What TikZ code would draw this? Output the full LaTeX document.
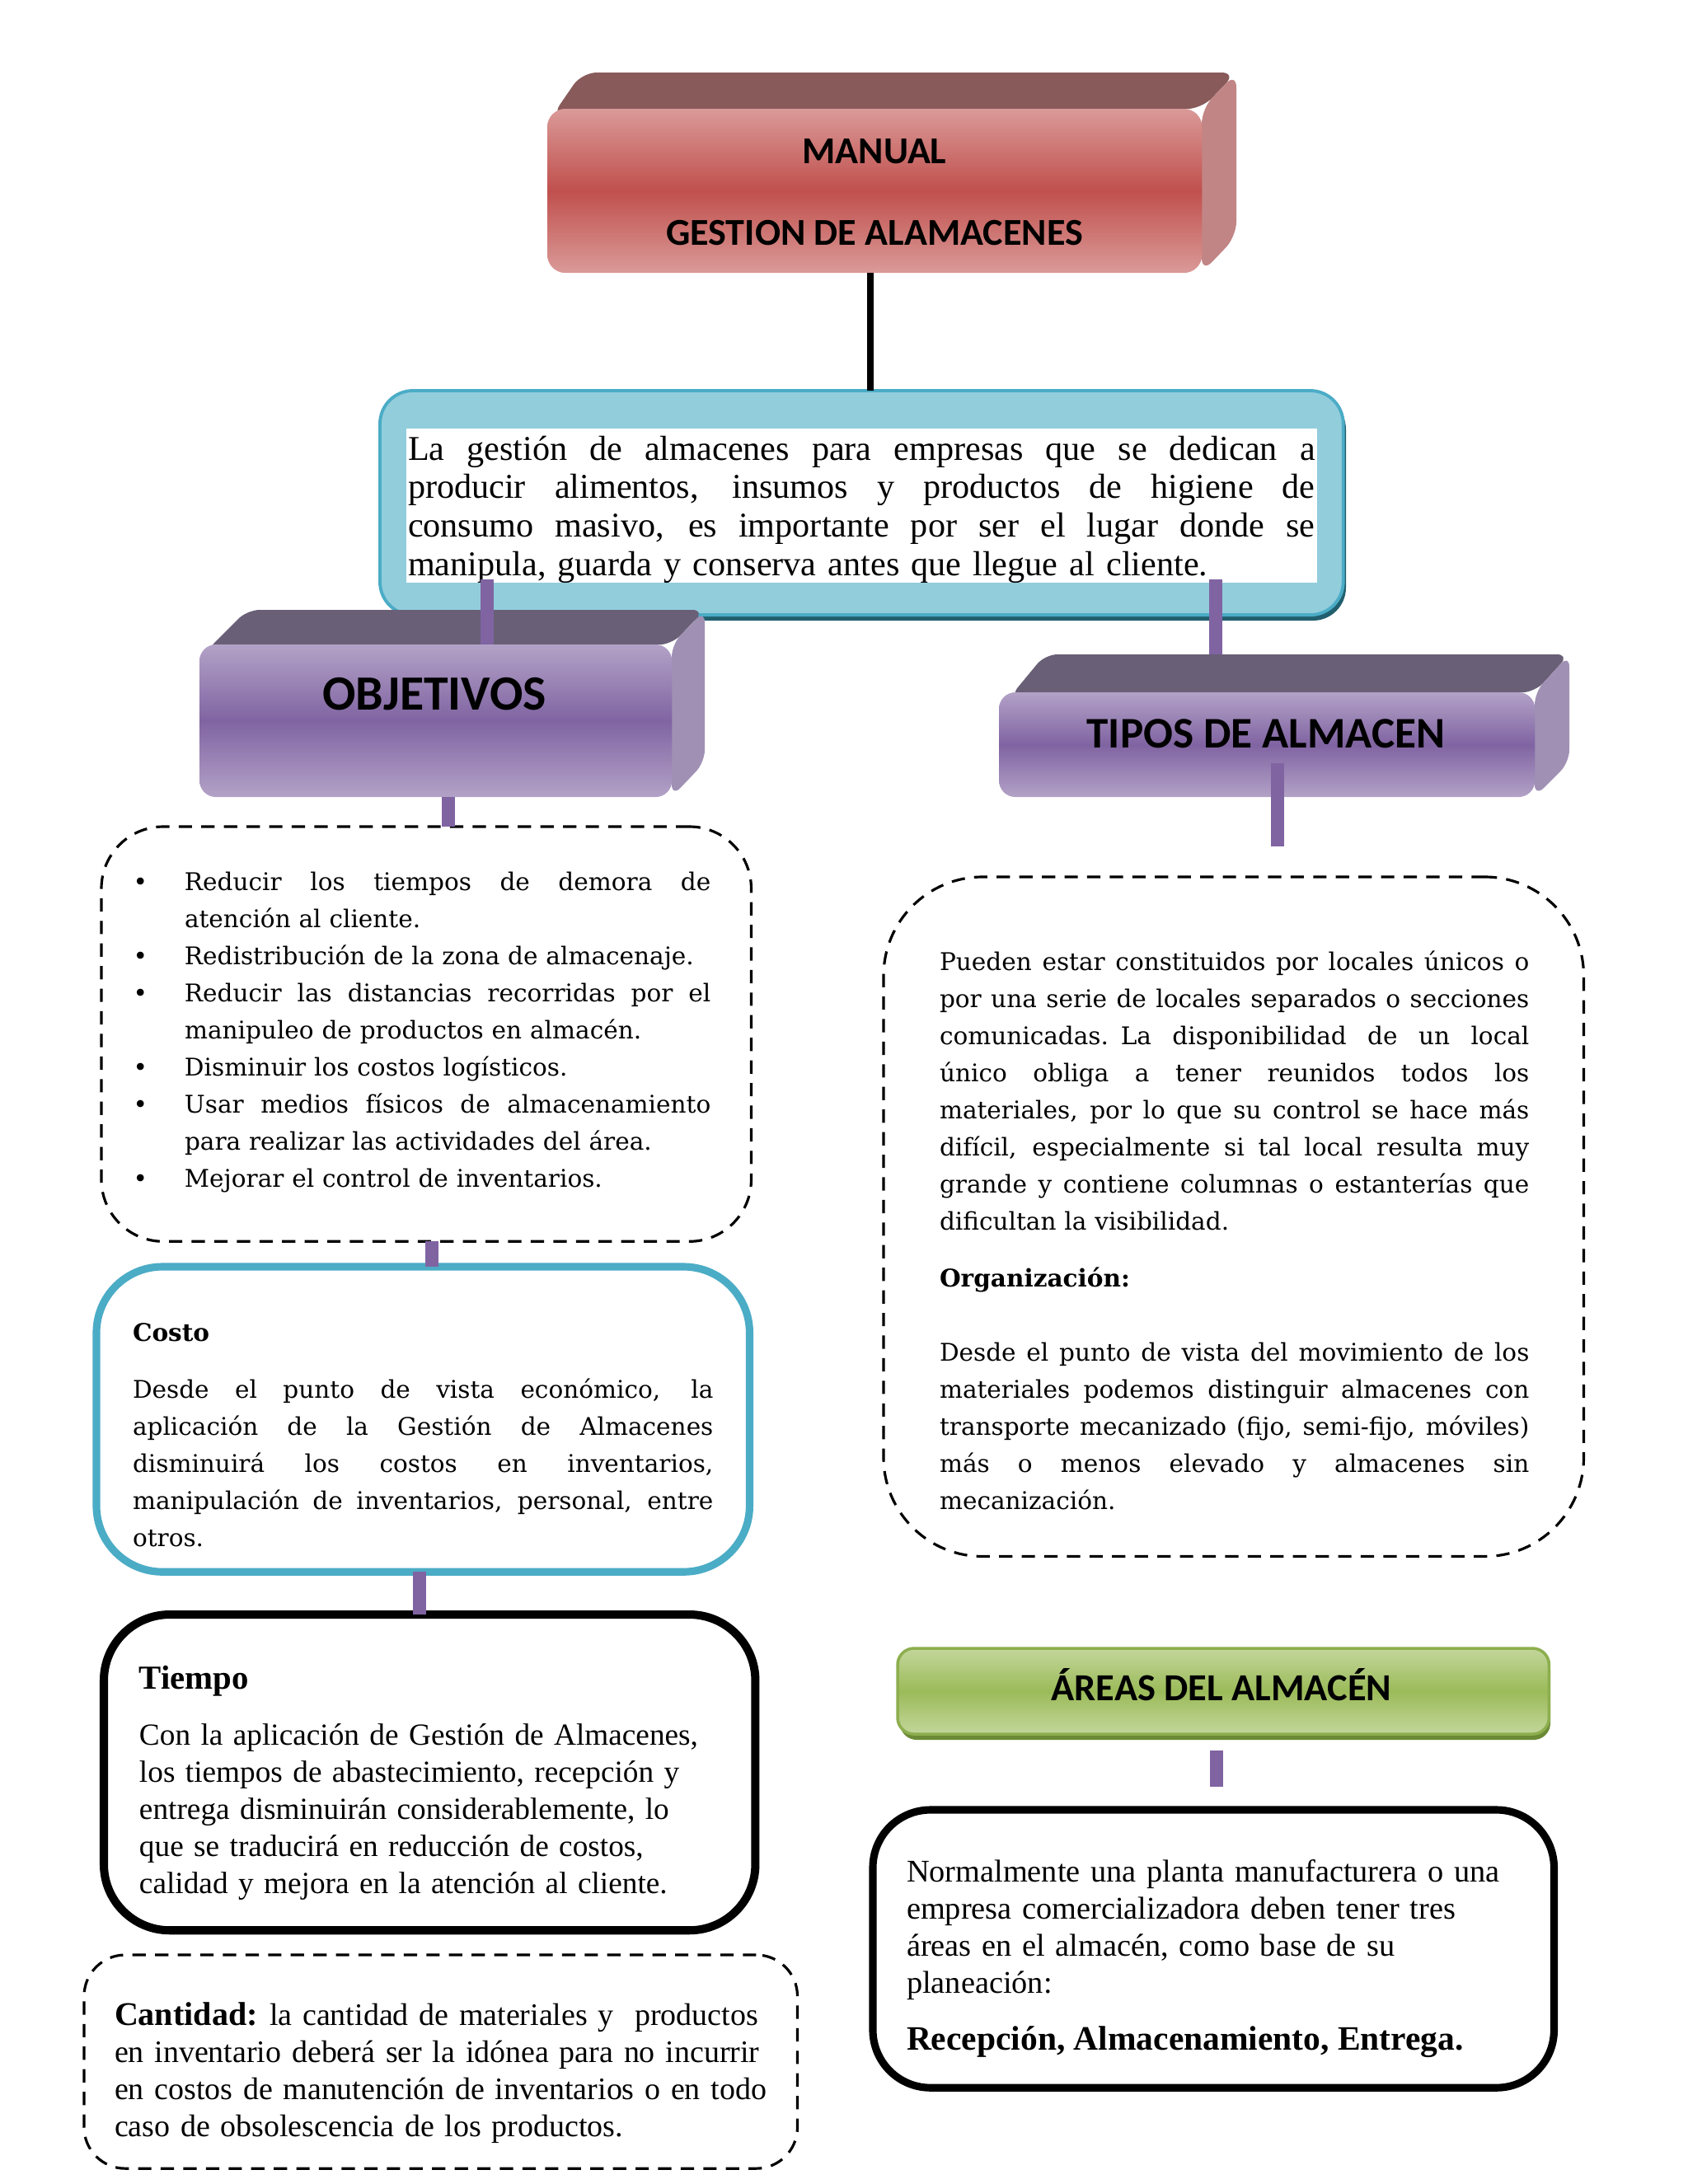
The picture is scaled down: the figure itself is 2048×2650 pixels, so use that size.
\documentclass[tikz,border=0pt]{standalone}
\usepackage{fontspec}
\newfontfamily\fcam{DejaVu Serif}
\newfontfamily\fgeo{Liberation Serif}
\newfontfamily\fcal{Carlito}
\usetikzlibrary{calc}
\setlength\parindent{0pt}
\newcommand\jl[1]{\leavevmode\hbox to \hsize{\spaceskip=0.3em plus 1fil\relax #1}\par}
\newcommand\bl{\leavevmode\llap{\textbullet\hspace{12.8pt}}}
\hbadness=10000
\hfuzz=20pt
\definecolor{redtop}{HTML}{DA9A98}
\definecolor{redmid}{HTML}{C0504D}
\definecolor{redback}{HTML}{885A5A}
\definecolor{redside}{HTML}{C28585}
\definecolor{purtop}{HTML}{B3A2C7}
\definecolor{purmid}{HTML}{8064A2}
\definecolor{purback}{HTML}{695F76}
\definecolor{purside}{HTML}{A091B4}
\definecolor{bluefill}{HTML}{92CDDC}
\definecolor{blueline}{HTML}{4BACC6}
\definecolor{blueshadow}{HTML}{215F6E}
\definecolor{grtop}{HTML}{C3D69B}
\definecolor{grmid}{HTML}{9BBB59}
\definecolor{grline}{HTML}{8DAE4E}
\definecolor{grshadow}{HTML}{6B8A36}
\begin{document}
\begin{tikzpicture}[x=0.01cm,y=-0.01cm,
  box/.style={rectangle, inner sep=0pt, outer sep=0pt, anchor=north west},
  pline/.style={draw=purmid, line width=4.5pt},
  dbox/.style={box, draw=black, line width=0.9pt, dash pattern=on 4.6pt off 3.2pt},
  tx/.style={inner sep=0pt, outer sep=0pt, anchor=base west, align=left},
  camf/.style={font={\fcam\fontsize{8.4pt}{12.83pt}\selectfont}},
  geof/.style={font={\fgeo\fontsize{10.9pt}{12.8pt}\selectfont}},
  hdr/.style={inner sep=0pt, outer sep=0pt, anchor=base}
]
\fill[white] (0,0) rectangle (2048,2650);
\useasboundingbox (0,0) rectangle (2048,2650);

% ---------- red 3D box
\fill[redback, rounded corners=0.18cm] (669,142) -- (706,88) -- (1500,88) -- (1458,132) -- cycle;
\fill[redside, rounded corners=0.18cm] (1458,132) -- (1500,88) -- (1500,287) -- (1458,331) -- cycle;
\node[box, rounded corners=0.22cm, top color=redtop, bottom color=redtop, middle color=redmid,
  minimum width=7.94cm, minimum height=1.99cm] (manual) at (664,132) {};
\node[hdr, font={\fcal\bfseries\fontsize{13.1pt}{15pt}\selectfont}] (manualA) at (1061,198) {MANUAL};
\node[hdr, font={\fcal\bfseries\fontsize{13.1pt}{15pt}\selectfont}] (manualB) at (1061,297) {GESTION DE ALAMACENES};

% ---------- blue intro box
\fill[blueshadow, rounded corners=0.4cm] (466,481) rectangle (1633,753);
\node[box, draw=blueline, line width=1.1pt, fill=bluefill, rounded corners=0.4cm,
  minimum width=11.68cm, minimum height=2.72cm] (intro) at (461,474) {};
\node[box, fill=white, minimum width=11.04cm, minimum height=1.87cm] (white) at (493,520) {};
\node[tx, text width=11.0cm, font={\fgeo\fontsize{12pt}{13.29pt}\selectfont}] (introtxt) at (495,558) {%
\jl{La gestión de almacenes para empresas que se dedican a}
\jl{producir alimentos, insumos y productos de higiene de}
\jl{consumo masivo, es importante por ser el lugar donde se}
manipula, guarda y conserva antes que llegue al cliente.};

% ---------- OBJETIVOS 3D box
\fill[purback, rounded corners=0.15cm] (250,790) -- (300,740) -- (855,740) -- (815,782) -- cycle;
\fill[purside, rounded corners=0.15cm] (815,782) -- (855,740) -- (855,925) -- (815,967) -- cycle;
\node[box, rounded corners=0.2cm, top color=purtop, bottom color=purtop, middle color=purmid,
  minimum width=5.73cm, minimum height=1.85cm] (obj) at (242,782) {};
\node[hdr, font={\fcal\bfseries\fontsize{17pt}{20pt}\selectfont}] (objT) at (527,861) {OBJETIVOS};

% ---------- TIPOS 3D box
\fill[purback, rounded corners=0.15cm] (1225,846) -- (1268,794) -- (1904,794) -- (1862,840) -- cycle;
\fill[purside, rounded corners=0.15cm] (1862,840) -- (1904,794) -- (1904,925) -- (1862,967) -- cycle;
\node[box, rounded corners=0.2cm, top color=purtop, bottom color=purtop, middle color=purmid,
  minimum width=6.50cm, minimum height=1.27cm] (tipos) at (1212,840) {};
\node[hdr, font={\fcal\bfseries\fontsize{15.1pt}{18pt}\selectfont}] (tiposT) at (1536,907) {TIPOS DE ALMACEN};

% ---------- objectives list
\node[dbox, rounded corners=0.75cm, minimum width=7.88cm, minimum height=5.03cm] (objlist) at (123,1003) {};
\node[tx, camf, text width=6.38cm] (objtxt) at (224,1080) {%
\jl{\bl Reducir los tiempos de demora de}
atención al cliente.\par
\bl Redistribución de la zona de almacenaje.\par
\jl{\bl Reducir las distancias recorridas por el}
manipuleo de productos en almacén.\par
\bl Disminuir los costos logísticos.\par
\jl{\bl Usar medios físicos de almacenamiento}
para realizar las actividades del área.\par
\bl Mejorar el control de inventarios.};

% ---------- Costo
\node[box, draw=blueline, line width=2.6pt, rounded corners=0.8cm, minimum width=7.92cm, minimum height=3.70cm] (costo) at (117,1537) {};
\node[tx, font={\fcam\bfseries\fontsize{8.4pt}{12.83pt}\selectfont}] (costoH) at (161,1627) {Costo};
\node[tx, camf, text width=7.04cm] (costotxt) at (161,1696) {%
\jl{Desde el punto de vista económico, la}
\jl{aplicación de la Gestión de Almacenes}
\jl{disminuirá los costos en inventarios,}
\jl{manipulación de inventarios, personal, entre}
otros.};

% ---------- Tipos text
\node[dbox, rounded corners=1.2cm, minimum width=8.49cm, minimum height=8.24cm] (tiposbox) at (1072,1064) {};
\node[tx, camf, text width=7.15cm] (tipostxt) at (1140,1177) {%
\jl{Pueden estar constituidos por locales únicos o}
\jl{por una serie de locales separados o secciones}
\jl{comunicadas. La disponibilidad de un local}
\jl{único obliga a tener reunidos todos los}
\jl{materiales, por lo que su control se hace más}
\jl{difícil, especialmente si tal local resulta muy}
\jl{grande y contiene columnas o estanterías que}
dificultan la visibilidad.};
\node[tx, font={\fcam\bfseries\fontsize{8.4pt}{12.83pt}\selectfont}] (orgH) at (1140,1561) {Organización:};
\node[tx, camf, text width=7.15cm] (tipostxtB) at (1140,1651) {%
\jl{Desde el punto de vista del movimiento de los}
\jl{materiales podemos distinguir almacenes con}
\jl{transporte mecanizado (fijo, semi-fijo, móviles)}
\jl{más o menos elevado y almacenes sin}
mecanización.};

% ---------- Tiempo
\node[box, draw=black, line width=2.85pt, rounded corners=0.8cm, minimum width=7.90cm, minimum height=3.83cm] (tiempo) at (126,1959) {};
\node[tx, font={\fgeo\bfseries\fontsize{11.6pt}{13pt}\selectfont}] (tiempoH) at (169,2049) {Tiempo};
\node[tx, font={\fgeo\fontsize{10.6pt}{12.8pt}\selectfont}, text width=7.4cm] (tiempotxt) at (169,2117) {%
Con la aplicación de Gestión de Almacenes,\par
los tiempos de abastecimiento, recepción y\par
entrega disminuirán considerablemente, lo\par
que se traducirá en reducción de costos,\par
calidad y mejora en la atención al cliente.};

% ---------- Cantidad
\node[dbox, rounded corners=0.5cm, minimum width=8.65cm, minimum height=2.59cm] (cantidad) at (102,2372) {};
\node[tx, font={\fgeo\fontsize{10.8pt}{12.8pt}\selectfont}, text width=8.2cm] (cantidadtxt) at (139,2457) {%
{\bfseries\fontsize{11.4pt}{12.8pt}\selectfont Cantidad:}\kern-0.12em{} la cantidad de materiales y\ \ productos\par
en inventario deberá ser la idónea para no incurrir\par
en costos de manutención de inventarios o en todo\par
caso de obsolescencia de los productos.};

% ---------- Areas
\fill[grshadow, rounded corners=0.2cm] (1092,2006) rectangle (1881,2111);
\node[box, draw=grline, line width=1pt, rounded corners=0.2cm, top color=grtop, bottom color=grtop, middle color=grmid,
  minimum width=7.90cm, minimum height=1.04cm] (areas) at (1089,2000) {};
\node[hdr, font={\fcal\bfseries\fontsize{13.2pt}{16pt}\selectfont}] (areasT) at (1482,2063) {ÁREAS DEL ALMACÉN};
\node[box, draw=black, line width=2.6pt, rounded corners=0.7cm, minimum width=8.26cm, minimum height=3.37cm] (areasbox) at (1059,2196) {};
\node[tx, geof, text width=7.6cm] (areastxt) at (1100,2283) {%
Normalmente una planta manufacturera o una\par
empresa comercializadora deben tener tres\par
áreas en el almacén, como base de su\par
planeación:};
\node[tx, font={\fgeo\bfseries\fontsize{11.8pt}{13pt}\selectfont}] (areasB) at (1100,2487) {Recepción, Almacenamiento, Entrega.};

% ---------- connectors
\draw[line width=2pt] (manual.south -| 1056,0) -- (intro.north -| 1056,0);
\coordinate (p1s) at (591,703);
\draw[pline] (p1s) -- (p1s |- obj.north);
\coordinate (p2s) at (1475,703);
\coordinate (p2e) at (1475,794);
\draw[pline] (p2s) -- (p2e);
\coordinate (p3) at (544,0);
\draw[pline] (obj.south -| p3) -- (objlist.north -| p3);
\coordinate (p4s) at (1550,926);
\coordinate (p4e) at (1550,1027);
\draw[pline] (p4s) -- (p4e);
\coordinate (p5) at (524,0);
\draw[pline] (objlist.south -| p5) -- (costo.north -| p5);
\coordinate (p6) at (509,0);
\draw[pline] (costo.south -| p6) -- (tiempo.north -| p6);
\coordinate (p7s) at (1476,2124);
\coordinate (p7e) at (1476,2168);
\draw[pline] (p7s) -- (p7e);
\end{tikzpicture}
\end{document}
